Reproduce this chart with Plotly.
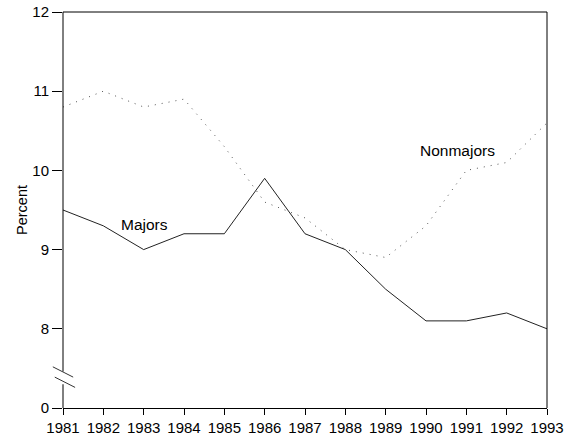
import plotly.graph_objects as go

years = list(range(1981, 1994))
majors = [9.5, 9.3, 9.0, 9.2, 9.2, 9.9, 9.2, 9.0, 8.5, 8.1, 8.1, 8.2, 8.0]
nonmajors = [10.8, 11.0, 10.8, 10.9, 10.3, 9.6, 9.4, 9.0, 8.9, 9.3, 10.0, 10.1, 10.6]
y_tickvals = [7, 8, 9, 10, 11, 12]
y_ticktext = ["0", "8", "9", "10", "11", "12"]

FONT = "Liberation Sans, Arial, sans-serif"

fig = go.Figure()
fig.add_trace(go.Scatter(x=years, y=nonmajors, mode="lines", name="Nonmajors",
                         line=dict(color="#555555", width=1, dash="1px,6px")))
fig.add_trace(go.Scatter(x=years, y=majors, mode="lines", name="Majors",
                         line=dict(color="#222222", width=1)))

fig.add_annotation(x=1983.03, y=9.32, text="Majors", showarrow=False,
                   font=dict(size=15.5, color="black", family=FONT))
fig.add_annotation(x=1990.79, y=10.25, text="Nonmajors", showarrow=False,
                   font=dict(size=15.5, color="black", family=FONT))

# axis line with break
shape_line = dict(color="black", width=1)
fig.add_shape(type="line", xref="paper", yref="y", x0=0, x1=0, y0=12, y1=7.46, line=shape_line)
fig.add_shape(type="line", xref="paper", yref="y", x0=0, x1=0, y0=7.30, y1=7, line=shape_line)
fig.add_shape(type="line", xref="paper", yref="y", x0=-0.021, x1=0.021, y0=7.52, y1=7.39,
              line=dict(color="#333333", width=1))
fig.add_shape(type="line", xref="paper", yref="y", x0=-0.017, x1=0.025, y0=7.39, y1=7.26,
              line=dict(color="#333333", width=1))
# top and right frame
fig.add_shape(type="line", xref="paper", yref="paper", x0=0, x1=1, y0=1, y1=1, line=shape_line)
fig.add_shape(type="line", xref="paper", yref="paper", x0=1, x1=1, y0=0, y1=1, line=shape_line)

fig.update_layout(
    width=570, height=440,
    margin=dict(l=63, r=23, t=12, b=32),
    paper_bgcolor="white", plot_bgcolor="white",
    showlegend=False,
    font=dict(family=FONT, size=15, color="black"),
    xaxis=dict(range=[1981, 1993], tickvals=years, ticks="outside", ticklen=6,
               tickcolor="black", showline=True, linecolor="black", linewidth=1,
               showgrid=False, zeroline=False, tickfont=dict(size=15), automargin=False),
    yaxis=dict(range=[7, 12], tickvals=y_tickvals, ticktext=y_ticktext,
               ticks="outside", ticklen=10, tickcolor="black", showline=False,
               showgrid=False, zeroline=False, tickfont=dict(size=15), automargin=False,
               title=dict(text="Percent", font=dict(size=14.5), standoff=1)),
)

fig.write_html("out.html", config={"displayModeBar": False},
               post_script="document.body.style.margin='0';document.body.style.padding='0';")
